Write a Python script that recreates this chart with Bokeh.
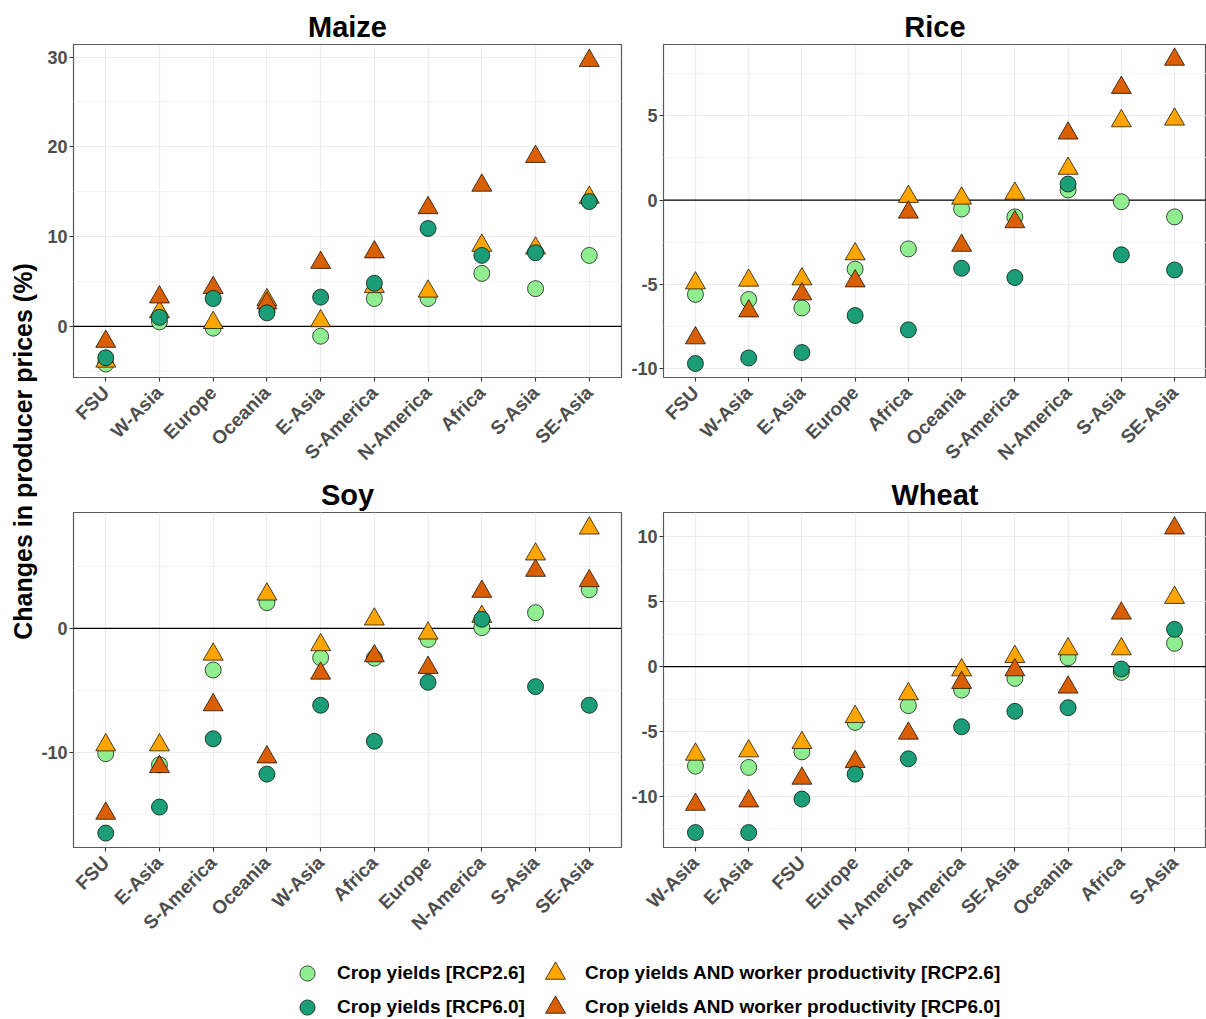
import math
from bokeh.plotting import figure
from bokeh.models import FactorRange, Range1d, FixedTicker, Span, Legend, LegendItem
from bokeh.layouts import row, column
from bokeh.embed import file_html
from bokeh.resources import INLINE
from bokeh.core.properties import value

FONT = "Liberation Sans"

# ---------------- data ----------------
SERIES_LABELS = [
    "Crop yields [RCP2.6]",
    "Crop yields [RCP6.0]",
    "Crop yields AND worker productivity [RCP2.6]",
    "Crop yields AND worker productivity [RCP6.0]",
]
SERIES_COLORS = ["#90EE90", "#1B9E77", "#FFA500", "#D95F02"]
SERIES_MARKERS = ["circle", "circle", "triangle", "triangle"]

maize_regions = ["FSU", "W-Asia", "Europe", "Oceania", "E-Asia", "S-America",
                 "N-America", "Africa", "S-Asia", "SE-Asia"]
maize_yield_26 = [-4.2, 0.5, -0.2, 1.7, -1.1, 3.1, 3.1, 5.9, 4.2, 7.9]
maize_yield_60 = [-3.5, 1.0, 3.1, 1.5, 3.25, 4.8, 10.9, 7.9, 8.2, 13.9]
maize_both_26 = [-3.9, 1.6, 0.4, 2.95, 0.6, 4.4, 3.9, 9.0, 8.7, 14.35]
maize_both_60 = [-1.7, 3.25, 4.3, 2.6, 7.1, 8.27, 13.2, 15.7, 18.9, 29.6]

rice_regions = ["FSU", "W-Asia", "E-Asia", "Europe", "Africa", "Oceania",
                "S-America", "N-America", "S-Asia", "SE-Asia"]
rice_yield_26 = [-5.6, -5.9, -6.4, -4.1, -2.9, -0.53, -1.0, 0.6, -0.1, -1.0]
rice_yield_60 = [-9.7, -9.37, -9.05, -6.85, -7.7, -4.05, -4.6, 0.95, -3.25, -4.15]
rice_both_26 = [-4.93, -4.77, -4.69, -3.2, 0.2, 0.1, 0.39, 1.87, 4.69, 4.79]
rice_both_60 = [-8.19, -6.59, -5.58, -4.81, -0.73, -2.7, -1.3, 3.96, 6.67, 8.34]

soy_regions = ["FSU", "E-Asia", "S-America", "Oceania", "W-Asia", "Africa",
               "Europe", "N-America", "S-Asia", "SE-Asia"]
soy_yield_26 = [-10.1, -11.0, -3.36, 2.07, -2.37, -2.4, -0.9, 0.05, 1.26, 3.1]
soy_yield_60 = [-16.5, -14.4, -8.9, -11.75, -6.2, -9.1, -4.35, 0.73, -4.7, -6.2]
soy_both_26 = [-9.41, -9.41, -2.1, 2.74, -1.34, 0.73, -0.4, 0.94, 5.97, 8.06]
soy_both_60 = [-14.92, -11.16, -6.18, -10.38, -3.63, -2.23, -3.17, 2.96, 4.65, 3.82]

wheat_regions = ["W-Asia", "E-Asia", "FSU", "Europe", "N-America", "S-America",
                 "SE-Asia", "Oceania", "Africa", "S-Asia"]
wheat_yield_26 = [-7.66, -7.76, -6.56, -4.29, -3.0, -1.8, -0.9, 0.69, -0.44, 1.8]
wheat_yield_60 = [-12.78, -12.78, -10.2, -8.28, -7.1, -4.63, -3.44, -3.16, -0.18, 2.88]
wheat_both_26 = [-6.76, -6.5, -5.86, -3.86, -2.1, -0.26, 0.77, 1.36, 1.36, 5.32]
wheat_both_60 = [-10.62, -10.36, -8.61, -7.33, -5.14, -1.23, -0.26, -1.59, 4.11, 10.67]

maize_yrange = [-5.7, 31.4]
rice_yrange = [-10.53, 9.23]
soy_yrange = [-17.66, 9.33]
wheat_yrange = [-13.93, 11.88]

maize_ticks = [0, 10, 20, 30]
maize_minor = [-5, 5, 15, 25]
rice_ticks = [-10, -5, 0, 5]
rice_minor = [-7.5, -2.5, 2.5, 7.5]
soy_ticks = [-10, 0]
soy_minor = [-15, -5, 5]
wheat_ticks = [-10, -5, 0, 5, 10]
wheat_minor = [-12.5, -7.5, -2.5, 2.5, 7.5]

Y_LABEL = "Changes in producer prices (%)"

# ---------------- layout constants ----------------
SIZES = [16, 16, 20, 20]
DRAW_ORDER = [0, 2, 3, 1]
TOP_H, BOT_H, LEG_H = 474, 471, 74
YLAB_W, LEFT_W, RIGHT_W = 38, 590, 578


def make_panel(title, regions, series, yrange, ticks, minor, width, height,
               bl, br, bt, bb):
    p = figure(width=width, height=height,
               x_range=FactorRange(factors=regions, range_padding=0.02),
               y_range=Range1d(yrange[0], yrange[1]),
               output_backend="svg", toolbar_location=None,
               min_border_left=bl, min_border_right=br,
               min_border_top=bt, min_border_bottom=bb)
    p.title.text = title
    p.title.align = "center"
    p.title.text_font = FONT
    p.title.text_font_style = "bold"
    p.title.text_font_size = "29px"
    p.title.text_color = "black"
    p.title.standoff = 3
    p.outline_line_color = "#5a5a5a"
    p.outline_line_width = 1.2
    p.background_fill_color = "white"

    p.yaxis.ticker = FixedTicker(ticks=ticks, minor_ticks=minor)
    p.yaxis.major_label_overrides = {t: str(t) for t in ticks}
    for ax in (p.xaxis[0], p.yaxis[0]):
        ax.axis_line_color = None
        ax.major_tick_line_color = "#333333"
        ax.major_tick_line_width = 1.1
        ax.major_tick_out = 4
        ax.major_tick_in = 0
        ax.minor_tick_line_color = None
        ax.major_label_text_font = FONT
        ax.major_label_text_font_style = "bold"
        ax.major_label_text_color = "#4D4D4D"
    p.yaxis.major_label_text_font_size = "18px"
    p.xaxis.major_label_text_font_size = "19px"
    p.yaxis.major_label_standoff = 2
    p.xaxis.major_label_orientation = math.pi / 4
    p.xaxis.major_label_standoff = 8

    p.xgrid.grid_line_color = "#EBEBEB"
    p.xgrid.grid_line_width = 1.2
    p.ygrid.grid_line_color = "#EBEBEB"
    p.ygrid.grid_line_width = 1.2
    p.ygrid.minor_grid_line_color = "#F3F3F3"
    p.ygrid.minor_grid_line_width = 1.0

    p.add_layout(Span(location=0, dimension="width", line_color="black",
                      line_width=1.3, level="underlay"))

    for i in DRAW_ORDER:
        p.scatter(x=regions, y=series[i], marker=SERIES_MARKERS[i],
                  size=SIZES[i], fill_color=SERIES_COLORS[i],
                  line_color="black", line_width=0.7)
    return p


pm = make_panel("Maize", maize_regions,
                [maize_yield_26, maize_yield_60, maize_both_26, maize_both_60],
                maize_yrange, maize_ticks, maize_minor, LEFT_W, TOP_H, 35, 7, 44, 95)
pr = make_panel("Rice", rice_regions,
                [rice_yield_26, rice_yield_60, rice_both_26, rice_both_60],
                rice_yrange, rice_ticks, rice_minor, RIGHT_W, TOP_H, 32, 0, 44, 95)
ps = make_panel("Soy", soy_regions,
                [soy_yield_26, soy_yield_60, soy_both_26, soy_both_60],
                soy_yrange, soy_ticks, soy_minor, LEFT_W, BOT_H, 35, 7, 38, 98)
pw = make_panel("Wheat", wheat_regions,
                [wheat_yield_26, wheat_yield_60, wheat_both_26, wheat_both_60],
                wheat_yrange, wheat_ticks, wheat_minor, RIGHT_W, BOT_H, 32, 0, 38, 98)

# y-axis label figure
TOTAL_H = TOP_H + BOT_H + LEG_H
ylab = figure(width=YLAB_W, height=TOTAL_H, x_range=Range1d(0, YLAB_W),
              y_range=Range1d(0, TOTAL_H), x_axis_type=None, y_axis_type=None,
              output_backend="svg", toolbar_location=None, min_border=0)
ylab.outline_line_color = None
ylab.grid.visible = False
ylab.text(x=[22], y=[TOTAL_H - 451], text=[Y_LABEL], angle=math.pi / 2,
          text_align="center", text_baseline="middle", text_font=value(FONT),
          text_font_style="bold", text_font_size="25px", text_color="black")

# legend figure (legend keys only; renderer points lie outside the visible range)
LEG_W = LEFT_W + RIGHT_W
leg = figure(width=LEG_W, height=LEG_H, x_range=Range1d(0, 1), y_range=Range1d(0, 1),
             x_axis_type=None, y_axis_type=None, output_backend="svg",
             toolbar_location=None, min_border=0)
leg.outline_line_color = None
leg.grid.visible = False

legend_specs = [  # (series index, screen location, glyph box, standoff)
    (0, (250, 27), 38, 11),
    (1, (250, -7), 38, 11),
    (2, (492, 21), 50, 5),
    (3, (492, -13), 50, 5),
]
for i, loc, g, so in legend_specs:
    r = leg.scatter(x=[-5], y=[-5], marker=SERIES_MARKERS[i], fill_color=SERIES_COLORS[i],
                    line_color="black", line_width=0.7)
    lg = Legend(items=[LegendItem(label=SERIES_LABELS[i], renderers=[r])],
                location=loc, glyph_width=g, glyph_height=g, label_height=g,
                label_standoff=so, padding=0, margin=0, spacing=0,
                border_line_color=None, background_fill_alpha=0,
                label_text_font=FONT, label_text_font_style="bold",
                label_text_font_size="19px", label_text_color="black")
    leg.add_layout(lg)

layout = row(ylab, column(row(pm, pr), row(ps, pw), leg))

open("out.html", "w").write(file_html(layout, INLINE))
